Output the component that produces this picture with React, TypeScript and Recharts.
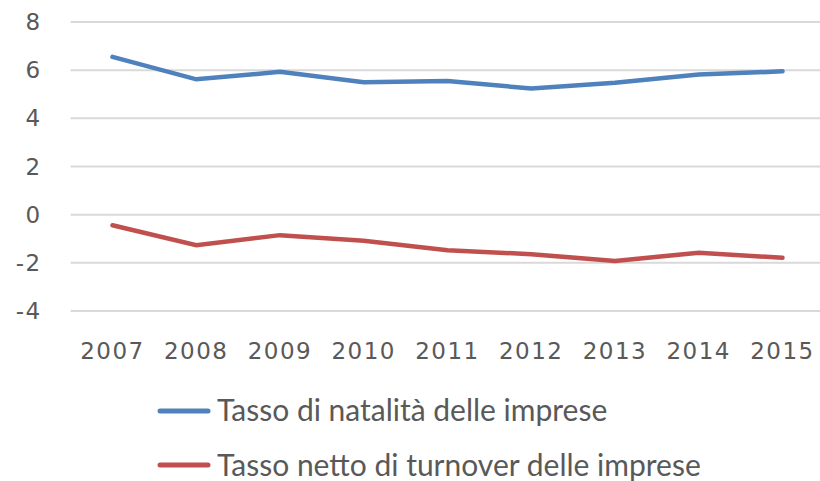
import React from "react";
import { LineChart, Line, XAxis, YAxis, CartesianGrid, Legend } from "recharts";

const years = ["2007", "2008", "2009", "2010", "2011", "2012", "2013", "2014", "2015"];
const natalita = [6.55, 5.62, 5.93, 5.5, 5.55, 5.24, 5.48, 5.82, 5.95];
const turnover = [-0.44, -1.27, -0.85, -1.08, -1.48, -1.64, -1.92, -1.58, -1.79];
const yTicks = [-4, -2, 0, 2, 4, 6, 8];
const seriesNames = ["Tasso di natalità delle imprese", "Tasso netto di turnover delle imprese"];

const data = years.map((y, i) => ({ year: y, natalita: natalita[i], turnover: turnover[i] }));

const BLUE = "#4F81BD";
const RED = "#C0504D";
const TXT = "#595959";
const TICK_FONT = { fontFamily: "DejaVu Sans", fontSize: 23, fill: TXT, letterSpacing: 1.5 };

const LegendContent = () => (
  <svg width={820} height={101} style={{ display: "block" }}>
    <line x1={160} x2={208} y1={31} y2={31} stroke={BLUE} strokeWidth={5} strokeLinecap="round" />
    <text x={217} y={41} fontFamily="Lato" fontSize={30} fill={TXT}>{seriesNames[0]}</text>
    <line x1={160} x2={208} y1={85} y2={85} stroke={RED} strokeWidth={5} strokeLinecap="round" />
    <text x={217} y={96} fontFamily="Lato" fontSize={30} fill={TXT}>{seriesNames[1]}</text>
  </svg>
);

export default function App() {
  return (
    <div style={{ position: "absolute", left: 0, top: 0, width: 820, height: 481, overflow: "hidden", background: "#fff" }}>
      <LineChart
        width={840}
        height={481}
        data={data}
        margin={{ top: 22, right: 15.6, left: 0, bottom: 0 }}
      >
        <CartesianGrid vertical={false} stroke="#D9D9D9" strokeWidth={2} />
        <XAxis
          dataKey="year"
          axisLine={false}
          tickLine={false}
          tickSize={0}
          tickMargin={32}
          height={170}
          tick={TICK_FONT}
          interval={0}
          padding={{ left: 41.9, right: 41.9 }}
        />
        <YAxis
          domain={[-4, 8]}
          ticks={yTicks}
          axisLine={false}
          tickLine={false}
          tickSize={0}
          tickMargin={29}
          width={70.6}
          tick={TICK_FONT}
          interval={0}
        />
        <Legend
          layout="vertical"
          align="center"
          verticalAlign="middle"
          wrapperStyle={{ left: 0, top: 380, width: 820, height: 101 }}
          content={() => <LegendContent />}
        />
        <Line
          type="linear"
          dataKey="natalita"
          name={seriesNames[0]}
          stroke={BLUE}
          strokeWidth={4.5}
          dot={false}
          strokeLinecap="round"
          isAnimationActive={false}
        />
        <Line
          type="linear"
          dataKey="turnover"
          name={seriesNames[1]}
          stroke={RED}
          strokeWidth={4.5}
          dot={false}
          strokeLinecap="round"
          isAnimationActive={false}
        />
      </LineChart>
    </div>
  );
}
